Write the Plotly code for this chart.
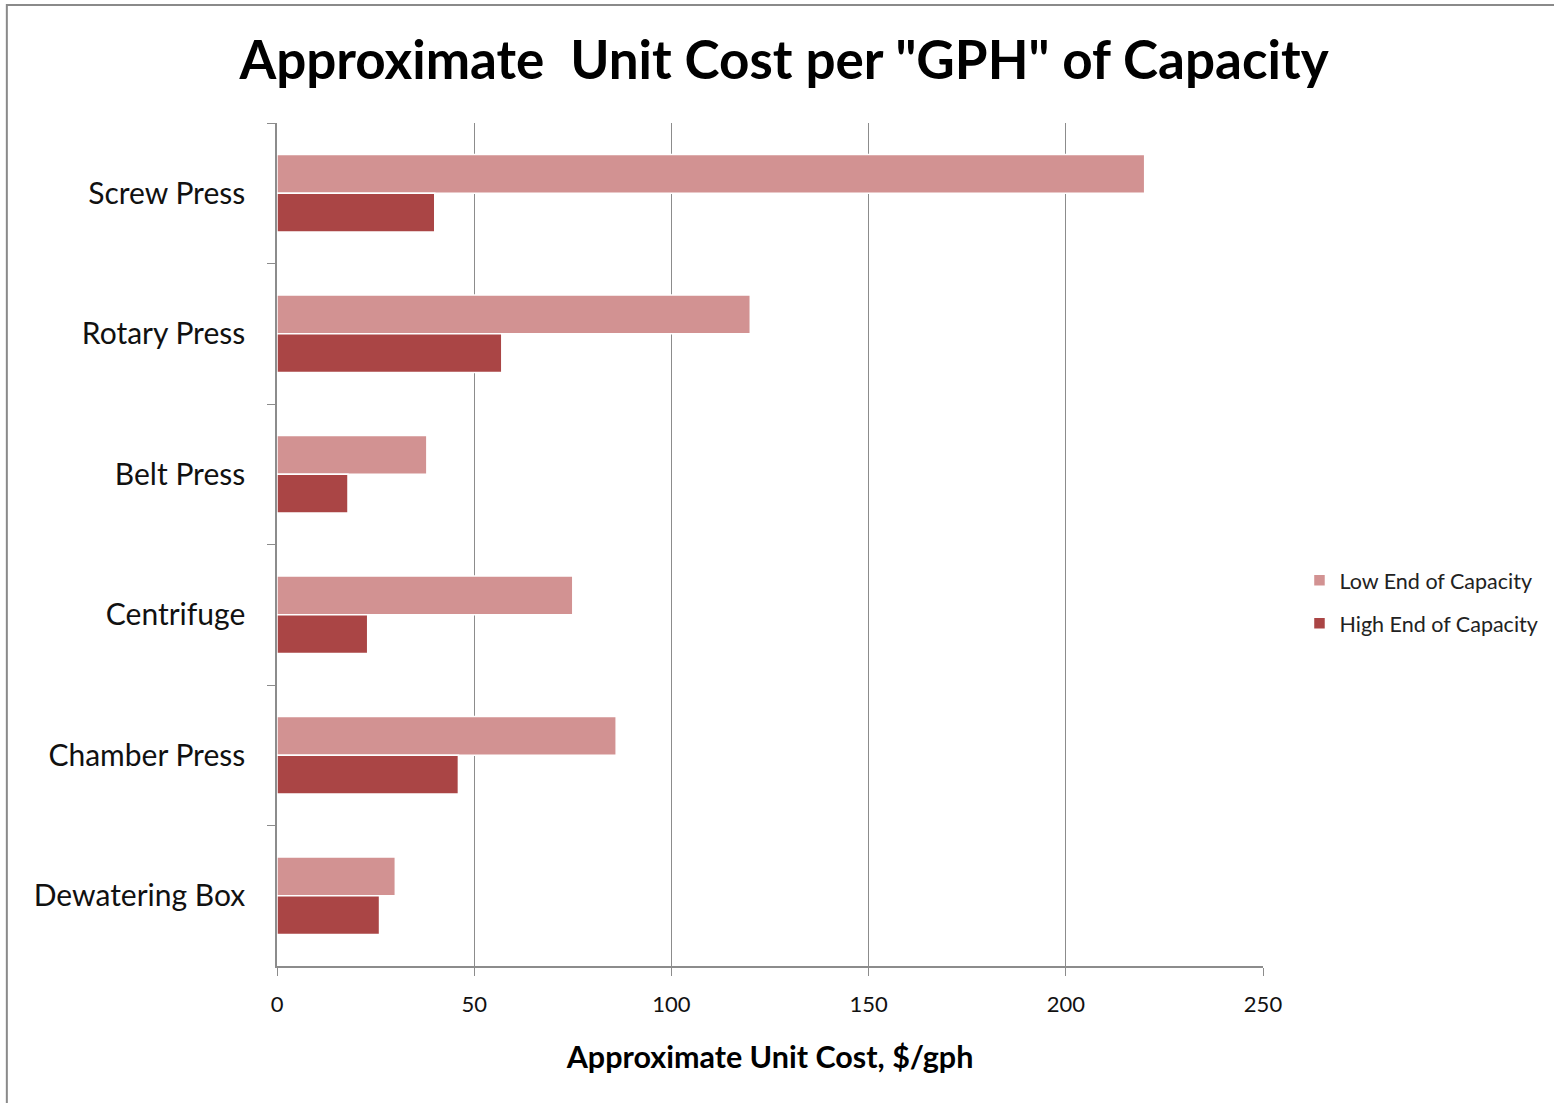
import plotly.graph_objects as go

categories = ["Screw Press", "Rotary Press", "Belt Press", "Centrifuge", "Chamber Press", "Dewatering Box"]
low_end = [220, 120, 38, 75, 86, 30]
high_end = [40, 57, 18, 23, 46, 26]
x_ticks = [0, 50, 100, 150, 200, 250]

FONT = "Lato"
fig = go.Figure()
fig.add_trace(go.Bar(y=categories, x=low_end, orientation="h", name="Low End of Capacity",
                     legendgroup="low",
                     marker=dict(color="#D29292", line=dict(color="white", width=1.5))))
fig.add_trace(go.Bar(y=categories, x=high_end, orientation="h", name="High End of Capacity",
                     legendgroup="high",
                     marker=dict(color="#AA4545", line=dict(color="white", width=1.5))))

fig.update_layout(
    width=1554, height=1103,
    margin=dict(l=277, r=291, t=123, b=137, autoexpand=False),
    paper_bgcolor="white", plot_bgcolor="white",
    barmode="group", bargap=0.45, bargroupgap=0,
    font=dict(family=FONT, color="#111111"),
    title=dict(text='Approximate  Unit Cost per "GPH" of Capacity', x=0.5045, xanchor="center",
               y=0.945, yanchor="middle", font=dict(family=FONT, size=53, color="black", weight="bold")),
    legend=dict(x=1.037, y=0.432, xanchor="left", yanchor="middle", font=dict(size=21.5, color="#222222"),
                tracegroupgap=12, itemwidth=30),
    showlegend=True,
    xaxis=dict(range=[0, 250], tickvals=x_ticks, showgrid=True, gridcolor="#8c8c8c", gridwidth=1,
               showline=True, linecolor="#8c8c8c", linewidth=1.5, ticks="outside", ticklen=8,
               tickcolor="#8c8c8c", tickfont=dict(size=22), zeroline=False, ticklabelstandoff=10,
               title=dict(text="Approximate Unit Cost, $/gph", font=dict(size=30.5, weight="bold", color="black"),
                          standoff=30)),
    yaxis=dict(categoryorder="array", categoryarray=categories, autorange="reversed",
               tickson="boundaries", ticks="outside", ticklen=8, tickcolor="#8c8c8c",
               showline=True, linecolor="#8c8c8c", linewidth=1.5, showgrid=False,
               tickfont=dict(size=30), ticklabelstandoff=24),
    shapes=[dict(type="rect", xref="paper", yref="paper", x0=-0.274, x1=2, y0=-1, y1=1.140,
                 line=dict(color="#8a8a8a", width=2), layer="below")],
)
fig.write_html("out.html", config={"displayModeBar": False},
               post_script="document.body.style.margin='0';document.documentElement.style.overflow='hidden';document.body.style.overflow='hidden';")
